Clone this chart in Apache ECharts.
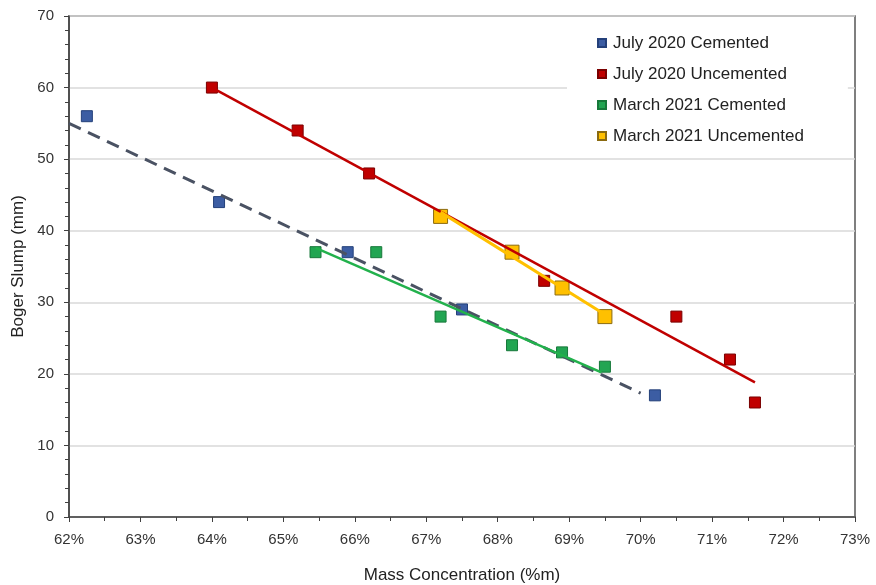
<!DOCTYPE html>
<html>
<head>
<meta charset="utf-8">
<script src="https://cdn.jsdelivr.net/npm/echarts@6/dist/echarts.min.js"></script>
<style>
  html, body { margin: 0; padding: 0; background: #fff; }
  #chart { width: 876px; height: 585px; }
</style>
</head>
<body>
<div id="chart"></div>
<script>
// measured points, [mass concentration %, slump mm]
const julyCemented = [[62.25, 56], [64.1, 44], [65.9, 37], [67.5, 29], [70.2, 17]];
const julyUncemented = [[64.0, 60], [65.2, 54], [66.2, 48], [68.65, 33], [70.5, 28], [71.25, 22], [71.6, 16]];
const marchCemented = [[65.45, 37], [66.3, 37], [67.2, 28], [68.2, 24], [68.9, 23], [69.5, 21]];
const marchUncemented = [[67.2, 42], [68.2, 37], [68.9, 32], [69.5, 28]];

// trend line end points
const julyCementedTrend = [[62.0, 55], [70.0, 17.3]];
const julyUncementedTrend = [[64.0, 60], [71.6, 18.8]];
const marchCementedTrend = [[65.45, 37.6], [69.45, 20.2]];
const marchUncementedTrend = [[67.2, 42.6], [69.5, 28.3]];

const names = ['July 2020 Cemented', 'July 2020 Uncemented', 'March 2021 Cemented', 'March 2021 Uncemented'];

const chart = echarts.init(document.getElementById('chart'));
const font = 'Liberation Sans, Arial, sans-serif';

function pts(name, data, fill, border, size) {
  return {
    name: name,
    type: 'scatter',
    data: data,
    symbol: 'rect',
    symbolSize: size,
    itemStyle: { color: fill, borderColor: border, borderWidth: 1, opacity: 1 },
    z: 3
  };
}

function trend(name, data, color, width, dashed) {
  return {
    name: name,
    type: 'line',
    data: data,
    showSymbol: false,
    silent: true,
    lineStyle: { color: color, width: width, type: dashed ? [13, 8] : 'solid' },
    z: 4
  };
}

chart.setOption({
  animation: false,
  textStyle: { fontFamily: font },
  grid: {
    left: 69, right: 21, top: 16, bottom: 68,
    outerBoundsMode: 'none',
    containLabel: false,
    show: true, borderColor: '#555', borderWidth: 1.5
  },
  legend: {
    data: names,
    orient: 'vertical',
    left: 567,
    top: 19,
    padding: [14, 44, 6, 30],
    backgroundColor: '#fff',
    itemWidth: 8,
    itemHeight: 8,
    itemGap: 11,
    icon: 'rect',
    textStyle: { fontSize: 17, color: '#222', lineHeight: 20, fontFamily: font, padding: [0, 0, 0, 2] },
    z: 10
  },
  xAxis: {
    type: 'value',
    min: 62,
    max: 73,
    interval: 1,
    name: 'Mass Concentration (%m)',
    nameLocation: 'middle',
    nameGap: 50,
    nameTextStyle: { fontSize: 17, color: '#222' },
    axisLine: { show: true, lineStyle: { color: '#404040', width: 1.5 } },
    axisTick: { show: true, length: 5, lineStyle: { color: '#404040' } },
    minorTick: { show: true, splitNumber: 2, length: 4, lineStyle: { color: '#404040' } },
    axisLabel: { formatter: '{value}%', fontSize: 15, color: '#333', margin: 15 },
    splitLine: { show: false }
  },
  yAxis: {
    type: 'value',
    min: 0,
    max: 70,
    interval: 10,
    name: 'Boger Slump (mm)',
    nameLocation: 'middle',
    nameGap: 40,
    nameTextStyle: { fontSize: 17, color: '#222' },
    axisLine: { show: true, lineStyle: { color: '#404040', width: 1.5 } },
    axisTick: { show: true, length: 5, lineStyle: { color: '#404040' } },
    minorTick: { show: true, splitNumber: 5, length: 4, lineStyle: { color: '#404040' } },
    axisLabel: { fontSize: 15, color: '#333', margin: 15 },
    splitLine: { show: true, lineStyle: { color: '#d9d9d9', width: 1.5 } }
  },
  series: [
    pts(names[0], julyCemented, '#3c5da3', '#24407a', 11),
    pts(names[1], julyUncemented, '#c00000', '#7a0000', 11),
    pts(names[2], marchCemented, '#22a552', '#17783a', 11),
    pts(names[3], marchUncemented, '#ffc000', '#8a6a10', 14),
    trend('trend-jc', julyCementedTrend, '#4a5263', 3, true),
    trend('trend-ju', julyUncementedTrend, '#c00000', 2.5, false),
    trend('trend-mc', marchCementedTrend, '#22b14c', 2.5, false),
    trend('trend-mu', marchUncementedTrend, '#ffc000', 3, false)
  ]
});
</script>
</body>
</html>
